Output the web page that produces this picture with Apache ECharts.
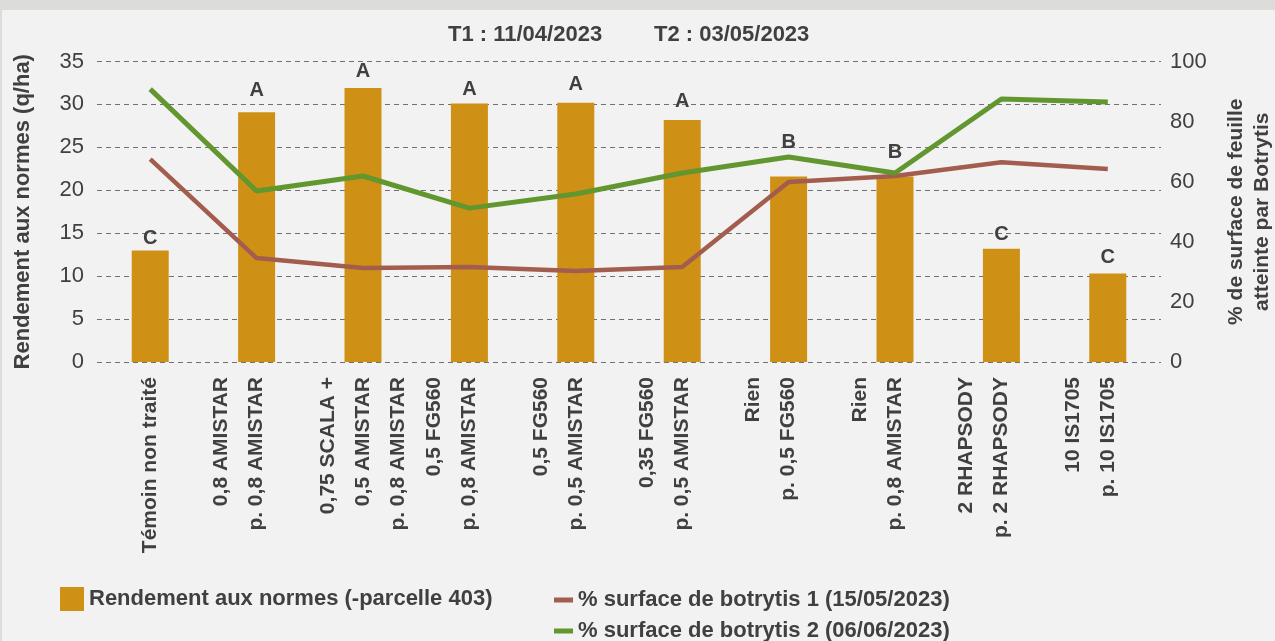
<!DOCTYPE html>
<html>
<head>
<meta charset="utf-8">
<script src="https://cdn.jsdelivr.net/npm/echarts@6/dist/echarts.min.js"></script>
<style>
  html, body { margin: 0; padding: 0; background: #f2f2f2; }
  #chart { width: 1275px; height: 641px; }
</style>
</head>
<body>
<div id="chart"></div>
<script>
const categories = [
  "Témoin non traité",
  "0,8 AMISTAR\np. 0,8 AMISTAR",
  "0,75 SCALA +\n0,5 AMISTAR\np. 0,8 AMISTAR",
  "0,5 FG560\np. 0,8 AMISTAR",
  "0,5 FG560\np. 0,5 AMISTAR",
  "0,35 FG560\np. 0,5 AMISTAR",
  "Rien\np. 0,5 FG560",
  "Rien\np. 0,8 AMISTAR",
  "2 RHAPSODY\np. 2 RHAPSODY",
  "10 IS1705\np. 10 IS1705"
];
const rendement = [13.0, 29.1, 31.9, 30.1, 30.2, 28.2, 21.6, 21.6, 13.2, 10.3];
const letters = ["C", "A", "A", "A", "A", "A", "B", "B", "C", "C"];
const botrytis1 = [67.5, 34.6, 31.3, 31.6, 30.3, 31.6, 59.9, 61.9, 66.5, 64.2];
const botrytis2 = [90.8, 56.9, 61.9, 51.2, 55.9, 62.9, 68.2, 62.9, 87.5, 86.5];

// how far each letter sits above its bar (style only)
const letterLift = [2, 12, 7, 4, 8, 8, 24, 14, 4, 6];

const txt = "#404040";
const font = "Liberation Sans, Arial, sans-serif";

var myChart = echarts.init(document.getElementById("chart"));

// two-line labels get an empty third line so the text sits like in the original
const labelFmt = (v) => (v.split("\n").length === 2 ? v + "\n" : v);

myChart.setOption({
  backgroundColor: "#f2f2f2",
  textStyle: { fontFamily: font },
  animation: false,
  graphic: [
    { type: "rect", shape: { x: 0, y: 0, width: 1275, height: 10 }, style: { fill: "#dcdcdb" } },
    { type: "rect", shape: { x: 0, y: 0, width: 2, height: 641 }, style: { fill: "#dcdcdb" } }
  ],
  title: [
    { text: "T1 : 11/04/2023", left: 443, top: 19, textStyle: { color: txt, fontSize: 22, fontWeight: "bold", fontFamily: font } },
    { text: "T2 : 03/05/2023", left: 649, top: 19, textStyle: { color: txt, fontSize: 22, fontWeight: "bold", fontFamily: font } }
  ],
  legend: [
    {
      data: ["Rendement aux normes (-parcelle 403)"],
      left: 55, top: 582, itemWidth: 24, itemHeight: 24, icon: "rect",
      textStyle: { color: txt, fontSize: 22, fontWeight: "bold", padding: [0, 0, 0, 0] }
    },
    {
      data: ["% surface de botrytis 1 (15/05/2023)"],
      left: 549, top: 583, itemWidth: 19, itemHeight: 5, icon: "rect",
      textStyle: { color: txt, fontSize: 22, fontWeight: "bold", lineHeight: 24 }
    },
    {
      data: ["% surface de botrytis 2 (06/06/2023)"],
      left: 549, top: 614, itemWidth: 19, itemHeight: 5, icon: "rect",
      textStyle: { color: txt, fontSize: 22, fontWeight: "bold", lineHeight: 24 }
    }
  ],
  grid: { left: 97, right: 114, top: 61.5, bottom: 279, outerBoundsMode: "none" },
  xAxis: {
    type: "category",
    data: categories,
    axisLine: { show: false },
    axisTick: { show: false },
    axisLabel: {
      interval: 0,
      rotate: 90,
      margin: 15,
      color: txt,
      fontSize: 21,
      fontWeight: "bold",
      lineHeight: 35,
      formatter: labelFmt
    }
  },
  yAxis: [
    {
      type: "value",
      min: 0, max: 35, interval: 5,
      name: "Rendement aux normes (q/ha)",
      nameLocation: "middle",
      nameRotate: 90,
      nameGap: 63,
      nameTextStyle: { color: txt, fontSize: 22, fontWeight: "bold" },
      axisLine: { show: false },
      axisTick: { show: false },
      axisLabel: { color: txt, fontSize: 22, margin: 13 },
      splitLine: { lineStyle: { color: "#707070", width: 1, type: [5, 4] } }
    },
    {
      type: "value",
      min: 0, max: 100, interval: 20,
      name: "% de surface de feuille\natteinte par Botrytis",
      nameLocation: "middle",
      nameRotate: 90,
      nameGap: 62,
      nameTextStyle: { color: txt, fontSize: 21, fontWeight: "bold", lineHeight: 26 },
      axisLine: { show: false },
      axisTick: { show: false },
      axisLabel: { color: txt, fontSize: 22, margin: 9 },
      splitLine: { show: false }
    }
  ],
  series: [
    {
      name: "Rendement aux normes (-parcelle 403)",
      type: "bar",
      yAxisIndex: 0,
      barWidth: 37,
      data: rendement.map((v, i) => ({ value: v, label: { distance: letterLift[i] } })),
      itemStyle: { color: "#cf9016" },
      label: {
        show: true,
        position: "top",
        color: txt,
        fontSize: 20,
        fontWeight: "bold",
        formatter: (p) => letters[p.dataIndex]
      },
      z: 1
    },
    {
      name: "% surface de botrytis 1 (15/05/2023)",
      type: "line",
      yAxisIndex: 1,
      data: botrytis1,
      symbol: "none",
      itemStyle: { color: "#a35d4f" },
      lineStyle: { color: "#a35d4f", width: 4.5 },
      z: 3
    },
    {
      name: "% surface de botrytis 2 (06/06/2023)",
      type: "line",
      yAxisIndex: 1,
      data: botrytis2,
      symbol: "none",
      itemStyle: { color: "#62962f" },
      lineStyle: { color: "#62962f", width: 5 },
      z: 4
    }
  ]
});

window.addEventListener("resize", function () {
  myChart.resize();
});
</script>
</body>
</html>
